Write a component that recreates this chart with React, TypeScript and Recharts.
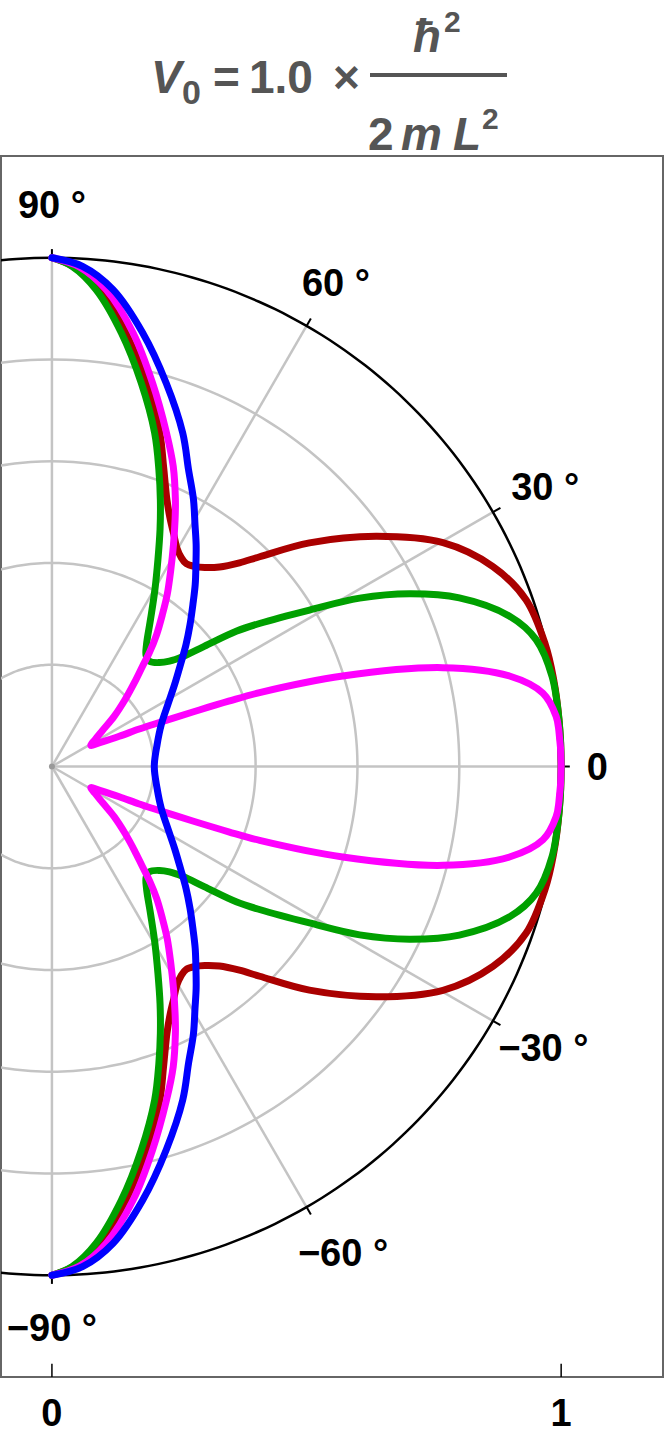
import React from 'react';
import { ComposedChart, Line, XAxis, YAxis, ReferenceLine, ReferenceDot, ReferenceArea } from 'recharts';

const FONT = '"Liberation Sans", Arial, Helvetica, sans-serif';

// ---- Data: polar curves r(theta), theta in degrees ----
const redTheta = [-90, -87.6, -84.3, -80.3, -76.2, -72.1, -69.6, -66.7, -64.4, -62.3, -60.3, -58.3, -56.5, -54.5, -52.5, -50, -47.4, -45.3, -41, -35.4, -29.8, -24.4, -19.4, -14, -10, -5, 0,
  5, 10, 14, 19.4, 24.4, 29.8, 35.4, 41, 45.3, 47.4, 50, 52.5, 54.5, 56.5, 58.3, 60.3, 62.3, 64.4, 66.7, 69.6, 72.1, 76.2, 80.3, 84.3, 87.6, 90];
const redR = [1.0, 0.984, 0.942, 0.864, 0.776, 0.689, 0.629, 0.571, 0.538, 0.515, 0.495, 0.483, 0.478, 0.483, 0.493, 0.512, 0.544, 0.58, 0.67, 0.781, 0.885, 0.951, 0.987, 0.998, 1.0, 1.0, 1.0,
  1.0, 1.0, 0.998, 0.987, 0.951, 0.885, 0.781, 0.67, 0.58, 0.544, 0.512, 0.493, 0.483, 0.478, 0.483, 0.495, 0.515, 0.538, 0.571, 0.629, 0.689, 0.776, 0.864, 0.942, 0.984, 1.0];

const greenTheta = [-90, -87.7, -84.7, -80.9, -76.9, -72.9, -70.2, -67.9, -65.5, -62.9, -59.8, -56.2, -52.2, -49.7, -47.1, -44, -41.9, -40.1, -38.3, -36.3, -34.6, -31.3, -28.7, -25.8, -22.5, -18.2, -14.7, -10.2, -5, 0,
  5, 10.2, 14.7, 18.2, 22.5, 25.8, 28.7, 31.3, 34.6, 36.3, 38.3, 40.1, 41.9, 44, 47.1, 49.7, 52.2, 56.2, 59.8, 62.9, 65.5, 67.9, 70.2, 72.9, 76.9, 80.9, 84.7, 87.7, 90];
const greenR = [1.0, 0.984, 0.941, 0.863, 0.774, 0.686, 0.62, 0.566, 0.512, 0.457, 0.402, 0.348, 0.303, 0.286, 0.282, 0.294, 0.31, 0.335, 0.381, 0.449, 0.495, 0.592, 0.689, 0.78, 0.866, 0.946, 0.983, 0.998, 1.0, 1.0,
  1.0, 0.998, 0.983, 0.946, 0.866, 0.78, 0.689, 0.592, 0.495, 0.449, 0.381, 0.335, 0.31, 0.294, 0.282, 0.286, 0.303, 0.348, 0.402, 0.457, 0.512, 0.566, 0.62, 0.686, 0.774, 0.863, 0.941, 0.984, 1.0];

const magentaTheta = [-90, -86.9, -83.5, -79.4, -75.3, -71.1, -68, -65.2, -63.5, -61.3, -58.9, -56.2, -54, -51.6, -49.5, -47.9, -45.5, -42.5, -38.9, -35.5, -32, -28.5, -26.5, -24.2, -23.3, -22.6, -21.8, -21, -20.3, -19.6, -17.3, -14.2, -11.2, -8.5, -5.7, -4, 0,
  4, 5.7, 8.5, 11.2, 14.2, 17.3, 19.6, 20.3, 21, 21.8, 22.6, 23.3, 24.2, 26.5, 28.5, 32, 35.5, 38.9, 42.5, 45.5, 47.9, 49.5, 51.6, 54, 56.2, 58.9, 61.3, 63.5, 65.2, 68, 71.1, 75.3, 79.4, 83.5, 86.9, 90];
const magentaR = [1.0, 0.984, 0.943, 0.867, 0.779, 0.694, 0.636, 0.578, 0.542, 0.497, 0.452, 0.407, 0.369, 0.331, 0.295, 0.265, 0.231, 0.195, 0.157, 0.122, 0.1, 0.087, 0.105, 0.145, 0.185, 0.215, 0.255, 0.31, 0.37, 0.433, 0.598, 0.792, 0.916, 0.975, 0.995, 0.998, 1.0,
  0.998, 0.995, 0.975, 0.916, 0.792, 0.598, 0.433, 0.37, 0.31, 0.255, 0.215, 0.185, 0.145, 0.105, 0.087, 0.1, 0.122, 0.157, 0.195, 0.231, 0.265, 0.295, 0.331, 0.369, 0.407, 0.452, 0.497, 0.542, 0.578, 0.636, 0.694, 0.779, 0.867, 0.943, 0.984, 1.0];

const blueTheta = [-90, -86.5, -82.7, -78.2, -73.4, -68.6, -65.3, -62.1, -59.4, -57, -54.5, -51.8, -49, -45.8, -42.3, -38.4, -33.8, -28.1, -21, -11.8, 0,
  11.8, 21, 28.1, 33.8, 38.4, 42.3, 45.8, 49, 51.8, 54.5, 57, 59.4, 62.1, 65.3, 68.6, 73.4, 78.2, 82.7, 86.5, 90];
const blueR = [1.0, 0.985, 0.945, 0.871, 0.786, 0.704, 0.642, 0.594, 0.552, 0.52, 0.487, 0.455, 0.422, 0.389, 0.356, 0.322, 0.29, 0.258, 0.23, 0.211, 0.201,
  0.211, 0.23, 0.258, 0.29, 0.322, 0.356, 0.389, 0.422, 0.455, 0.487, 0.52, 0.552, 0.594, 0.642, 0.704, 0.786, 0.871, 0.945, 0.985, 1.0];

// ---- Axes / grid ----
const gridRadii = [0.2, 0.4, 0.6, 0.8];
const outerRadius = 1;
const spokeAngles = [-60, -30, 0, 30, 60];
const angleTicks = [-90, -60, -30, 0, 30, 60, 90];
const angleLabels = ['−90 °', '−60 °', '−30 °', '0', '30 °', '60 °', '90 °'];
const xTicks = [0, 1];

// label placement (layout)
const labelPlace = [
  { t: -90, r: 1.102 }, { t: -59.1, r: 1.113 }, { t: -29.8, r: 1.112 }, { t: 0, r: 1.071 },
  { t: 29.6, r: 1.114 }, { t: 59.6, r: 1.102 }, { t: 90, r: 1.104 },
];

const series = [
  { name: 'red', theta: redTheta, r: redR, color: '#aa0000' },
  { name: 'green', theta: greenTheta, r: greenR, color: '#00a000' },
  { name: 'magenta', theta: magentaTheta, r: magentaR, color: '#ff00ff' },
  { name: 'blue', theta: blueTheta, r: blueR, color: '#0000ff' },
];

const rad = (d: number) => (d * Math.PI) / 180;
const toXY = (theta: number[], r: number[]) =>
  theta.map((t, i) => ({ x: r[i] * Math.cos(rad(t)), y: r[i] * Math.sin(rad(t)) }));
const circleSteps = Array.from({ length: 181 }, (_, i) => i * 2);
const circlePts = (rr: number) => circleSteps.map((a) => ({ x: rr * Math.cos(rad(a)), y: rr * Math.sin(rad(a)) }));

// centripetal Catmull-Rom curve factory (parametric, works for any point order)
const catmullRom = (context: any) => {
  let pts: number[][] = [];
  return {
    areaStart() {},
    areaEnd() {},
    lineStart() { pts = []; },
    point(x: number, y: number) { pts.push([+x, +y]); },
    lineEnd() {
      const n = pts.length;
      if (!n) return;
      context.moveTo(pts[0][0], pts[0][1]);
      for (let i = 0; i < n - 1; i++) {
        const p0 = pts[i === 0 ? 0 : i - 1];
        const p1 = pts[i];
        const p2 = pts[i + 1];
        const p3 = pts[i + 2 < n ? i + 2 : n - 1];
        const d01 = Math.sqrt(Math.hypot(p1[0] - p0[0], p1[1] - p0[1]));
        const d12 = Math.sqrt(Math.hypot(p2[0] - p1[0], p2[1] - p1[1]));
        const d23 = Math.sqrt(Math.hypot(p3[0] - p2[0], p3[1] - p2[1]));
        let c1x = p1[0], c1y = p1[1], c2x = p2[0], c2y = p2[1];
        if (d01 > 1e-6) {
          const a = 2 * d01 * d01 + 3 * d01 * d12 + d12 * d12;
          const m = 3 * d01 * (d01 + d12);
          c1x = (p1[0] * a - p0[0] * d12 * d12 + p2[0] * d01 * d01) / m;
          c1y = (p1[1] * a - p0[1] * d12 * d12 + p2[1] * d01 * d01) / m;
        }
        if (d23 > 1e-6) {
          const b = 2 * d23 * d23 + 3 * d23 * d12 + d12 * d12;
          const m = 3 * d23 * (d23 + d12);
          c2x = (p2[0] * b + p1[0] * d23 * d23 - p3[0] * d12 * d12) / m;
          c2y = (p2[1] * b + p1[1] * d23 * d23 - p3[1] * d12 * d12) / m;
        }
        context.bezierCurveTo(c1x, c1y, c2x, c2y, p2[0], p2[1]);
      }
    },
  };
};

const W = 665;
const H = 1440;

function Title() {
  const c = '#555555';
  const base = { fontFamily: FONT, fontWeight: 'bold' as const, fill: c };
  return (
    <svg width={W} height={160} style={{ position: 'absolute', left: 0, top: 0, pointerEvents: 'none' }}>
      <text x={151} y={93} fontSize={46} fontStyle="italic" {...base}>V</text>
      <text x={182} y={104} fontSize={34} {...base}>0</text>
      <text x={213} y={93} fontSize={46} {...base}>=</text>
      <text x={249} y={93} fontSize={46} {...base}>1.0</text>
      <text x={333} y={93} fontSize={46} {...base}>×</text>
      <rect x={370} y={73} width={137} height={4} fill={c} />
      <text x={413} y={52} fontSize={46} fontStyle="italic" {...base}>ħ</text>
      <text x={444} y={32} fontSize={30} {...base}>2</text>
      <text x={368} y={150} fontSize={46} {...base}>2</text>
      <text x={401} y={150} fontSize={46} fontStyle="italic" {...base}>m</text>
      <text x={453} y={150} fontSize={46} fontStyle="italic" {...base}>L</text>
      <text x={482} y={129} fontSize={30} {...base}>2</text>
    </svg>
  );
}

export default function App() {
  return (
    <div style={{ position: 'absolute', left: 0, top: 0, width: W, height: H, background: '#fff', fontFamily: FONT }}>
      <ComposedChart width={W} height={H} margin={{ top: 156, right: 2, bottom: 23, left: 1 }}>
        <XAxis
          type="number"
          dataKey="x"
          domain={[-0.1, 1.2]}
          allowDataOverflow
          ticks={xTicks}
          tickLine={false}
          axisLine={false}
          tickSize={0}
          tickMargin={22}
          height={40}
          tick={{ fontSize: 38, fontWeight: 'bold', fill: '#000', fontFamily: FONT }}
        />
        <YAxis type="number" dataKey="y" domain={[-1.2, 1.2]} allowDataOverflow hide />

        {gridRadii.map((gr) => (
          <Line key={'g' + gr} data={circlePts(gr)} dataKey="y" type={catmullRom as any} stroke="#c4c4c4" strokeWidth={2.5}
            dot={false} activeDot={false} isAnimationActive={false} />
        ))}
        {spokeAngles.map((a) => (
          <ReferenceLine key={'s' + a} ifOverflow="visible" stroke="#c4c4c4" strokeWidth={2.5}
            segment={[{ x: 0, y: 0 }, { x: Math.cos(rad(a)), y: Math.sin(rad(a)) }]} />
        ))}
        <ReferenceLine ifOverflow="visible" stroke="#c4c4c4" strokeWidth={2.5}
          segment={[{ x: 0, y: -1 }, { x: 0, y: 1 }]} />
        <ReferenceDot x={0} y={0} r={3} fill="#999999" stroke="none" ifOverflow="visible" />

        <Line data={circlePts(outerRadius)} dataKey="y" type={catmullRom as any} stroke="#000" strokeWidth={2.5}
          dot={false} activeDot={false} isAnimationActive={false} />
        {angleTicks.map((a) => (
          <ReferenceLine key={'t' + a} ifOverflow="visible" stroke="#000" strokeWidth={2}
            segment={[{ x: Math.cos(rad(a)), y: Math.sin(rad(a)) }, { x: 1.017 * Math.cos(rad(a)), y: 1.017 * Math.sin(rad(a)) }]} />
        ))}
        {xTicks.map((t) => (
          <ReferenceLine key={'xt' + t} ifOverflow="visible" stroke="#000" strokeWidth={1.5}
            segment={[{ x: t, y: -1.2 }, { x: t, y: -1.174 }]} />
        ))}

        {series.map((s) => (
          <Line key={s.name} data={toXY(s.theta, s.r)} dataKey="y" type={catmullRom as any} stroke={s.color} strokeWidth={7}
            strokeLinejoin="round" strokeLinecap="round" dot={false} activeDot={false} isAnimationActive={false} />
        ))}

        {angleLabels.map((lab, i) => (
          <ReferenceDot key={'l' + i} ifOverflow="visible"
            x={labelPlace[i].r * Math.cos(rad(labelPlace[i].t))}
            y={labelPlace[i].r * Math.sin(rad(labelPlace[i].t))}
            r={1}
            shape={(p: any) => (
              <text x={p.cx} y={p.cy + 13.5} textAnchor="middle" fontSize={38} fontWeight="bold" fill="#000" fontFamily={FONT}>{lab}</text>
            )}
          />
        ))}

        <ReferenceArea x1={-0.1} x2={1.2} y1={-1.2} y2={1.2} ifOverflow="visible" fill="none" fillOpacity={0}
          stroke="#666666" strokeWidth={2} />
      </ComposedChart>
      <Title />
    </div>
  );
}
